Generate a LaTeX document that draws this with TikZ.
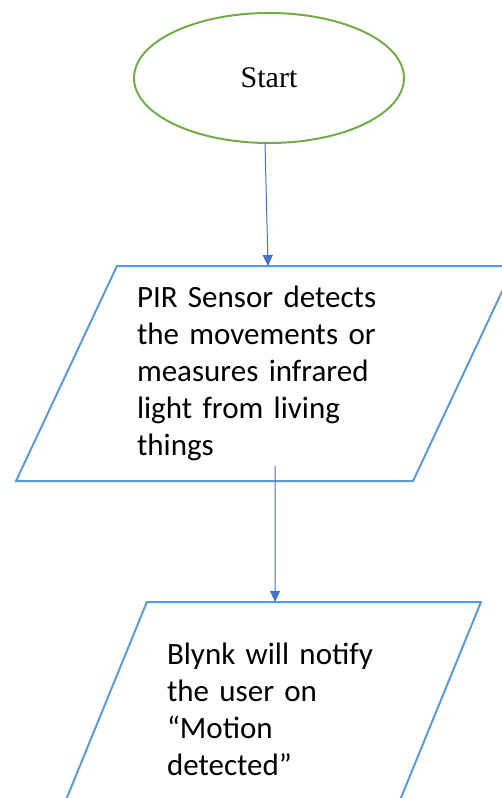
\documentclass[tikz,border=0pt]{standalone}
\usepackage{fontspec}
\setmainfont{Liberation Serif}
\newfontfamily\bodyfont{Carlito}
\usetikzlibrary{shapes.geometric,arrows.meta}
\newcommand{\boxfont}{\bodyfont\fontsize{31}{37}\selectfont\hbadness=10000 \hfuzz=20pt\relax}

\begin{document}
\begin{tikzpicture}[x=1pt,y=-1pt,
    terminal/.style={ellipse, draw=startgreen, line width=2pt, minimum width=270pt, minimum height=130pt, inner sep=0pt, outer sep=0pt, font=\fontsize{30}{36}\selectfont},
    iobox/.style={trapezium, trapezium stretches body, draw=boxblue, line width=2pt, inner sep=0pt, outer sep=0pt, align=left, font=\boxfont},
    flow/.style={draw=arrowblue, line width=1pt, -{Triangle[width=10pt,length=11pt]}}]
    \useasboundingbox (0,0) rectangle (502,798);
    \clip (0,0) rectangle (502,798);

    \definecolor{startgreen}{RGB}{112,173,71}
    \definecolor{boxblue}{RGB}{91,155,213}
    \definecolor{arrowblue}{RGB}{68,114,196}

    % terminal and the two input/output steps
    \node[terminal] (start) at (269,78) {Start};
    \node[iobox, trapezium left angle=60, trapezium right angle=120, minimum width=498pt, minimum height=215pt, text width=256pt] (pir) at (265,373.5)
        {PIR Sensor detects\\the movements or\\measures infrared\\light from living\\things};
    \node[iobox, trapezium left angle=56.5, trapezium right angle=123.5, minimum width=422pt, minimum height=215pt, text width=206pt] (blynk) at (270,709.5)
        {\mbox{Blynk will notify}\\the user on\\“Motion\\detected”};

    % flow
    \draw[flow] ([xshift=-4pt]start.south) -- ([xshift=3pt]pir.north);
    \draw[flow] ([xshift=10pt,yshift=15pt]pir.south) -- ([xshift=5pt]blynk.north);
\end{tikzpicture}
\end{document}
